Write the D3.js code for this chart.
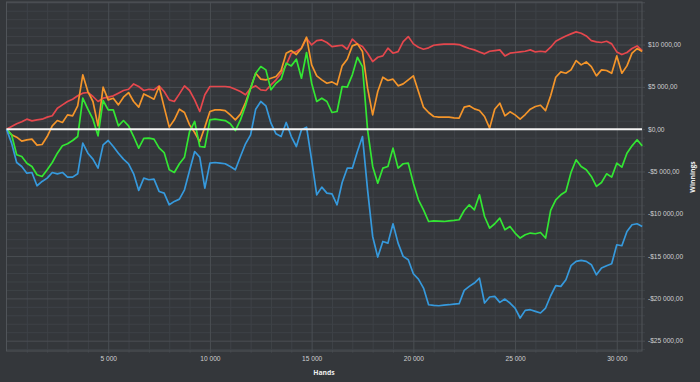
<!DOCTYPE html>
<html>
<head>
<meta charset="utf-8">
<script src="https://cdn.jsdelivr.net/npm/d3@7"></script>
<style>
  html, body { margin: 0; padding: 0; background: #34373b; }
  svg { display: block; }
</style>
</head>
<body>
<svg></svg>
<script>
// --------------- data (winnings every 250 hands)
const handStep = 250;
const xTicks = [5000, 10000, 15000, 20000, 25000, 30000];
const yTicks = [10000, 5000, 0, -5000, -10000, -15000, -20000, -25000];

const red = [0, 320, 630, 870, 1180, 980, 1100, 1180, 1420, 1580,
  2480, 2870, 3270, 3540, 3940, 4250, 4330, 3860, 3270, 3660,
  3780, 3940, 4250, 4570, 4720, 5350, 5040, 4570, 4720, 4650,
  5120, 4450, 3460, 3270, 4170, 5120, 4570, 3460, 2090, 4060,
  5040, 5040, 5040, 5040, 4960, 4720, 4450, 4060, 4840, 5120,
  4650, 4570, 5240, 5830, 6610, 7600, 8980, 9170, 9570, 10750,
  9960, 10470, 10550, 10240, 9760, 9840, 9920, 9450, 10630, 10080,
  9760, 8980, 7990, 8500, 8660, 9570, 8980, 9170, 10350, 10940,
  10080, 9690, 9450, 9610, 9920, 10000, 10040, 10040, 10040, 10000,
  9760, 9530, 9370, 9130, 8900, 9210, 9290, 9370, 8660, 8980,
  9060, 9130, 9210, 9370, 9130, 9210, 9130, 9690, 10390, 10710,
  11020, 11260, 11500, 11340, 11020, 10470, 10310, 10240, 10390, 10080,
  9130, 8820, 9060, 9530, 9840, 9290];

const orange = [0, -670, -950, -1420, -1260, -1180, -1890, -1810, -870, 390,
  1020, 790, 1690, 1580, 2760, 6420, 4450, 3270, 390, 4960,
  3460, 3660, 2870, 3780, 4330, 3270, 2600, 4170, 3860, 3540,
  5040, 2600, 240, 1100, 2360, 1970, 510, -390, -1460, 240,
  2090, 2280, 2280, 2200, 1690, 1100, 1770, 3150, 4840, 6610,
  5910, 5830, 6020, 6220, 6930, 8980, 9290, 8820, 9570, 10870,
  7600, 6300, 5830, 5430, 5590, 5240, 7480, 8270, 9840, 10080,
  9170, 4840, 1690, 4450, 6140, 5750, 5910, 5120, 5350, 5830,
  6300, 4450, 2600, 1970, 1500, 1420, 1420, 1420, 1340, 1300,
  2600, 2760, 2400, 2200, 1500, 120, 2360, 3070, 1580, 2050,
  1690, 1180, 1730, 2360, 2680, 2830, 2200, 3940, 6140, 6770,
  6610, 7010, 8110, 7600, 7950, 7400, 6300, 7010, 6930, 6610,
  8660, 6610, 7480, 8980, 9530, 9170];

const green = [0, -670, -3030, -3230, -4020, -4410, -5390, -5590, -4800, -3940,
  -2840, -1970, -1730, -1340, -870, 3660, 2360, 1180, -790, 3390,
  2280, 2280, 390, 1020, 390, -870, -2240, -1100, -1060, -1180,
  -2210, -2760, -4800, -5120, -4090, -3310, -280, 910, -2050, -2130,
  1100, 1180, 1100, 1020, 630, -160, 1100, 2760, 4840, 6610,
  7400, 7010, 4650, 5430, 5910, 7800, 7480, 8270, 6020, 9060,
  5430, 3270, 3660, 3270, 1970, 2090, 5040, 4960, 6420, 8500,
  7400, -80, -4410, -6380, -4610, -4410, -2240, -4610, -4090, -4020,
  -6380, -8350, -9530, -10910, -10830, -10870, -10910, -10830, -10790, -10710,
  -9610, -8940, -9530, -7760, -10320, -11690, -11180, -10510, -11890, -11500,
  -12280, -12870, -12480, -12280, -12360, -12210, -12870, -9610, -8350, -7760,
  -7360, -5120, -3620, -4410, -4800, -5590, -6770, -6300, -5280, -5670,
  -4020, -4490, -2840, -1970, -1260, -1970];

const blue = [0, -1650, -3940, -4410, -5200, -5120, -6690, -6180, -5790, -5120,
  -5280, -5120, -5670, -5670, -5280, -1650, -2840, -3540, -4610, -1850,
  -1340, -2050, -2840, -3540, -4090, -5280, -7240, -5790, -5980, -5910,
  -7360, -7560, -8940, -8540, -8270, -7170, -4880, -2640, -3310, -6970,
  -4020, -3940, -4020, -4090, -4410, -4800, -3230, -1730, -670, 2360,
  3270, 2760, 710, -550, -870, 790, -870, -2050, -80, 240,
  -3620, -7760, -6850, -7560, -7640, -8940, -6300, -4610, -4610, -2640,
  -870, -7170, -12680, -15120, -13270, -13470, -11180, -13470, -15040, -15430,
  -17090, -17720, -18780, -20750, -20830, -20870, -20790, -20750, -20670, -20630,
  -19060, -18580, -18190, -17600, -20550, -19840, -19760, -20470, -20080, -20550,
  -21140, -22320, -21420, -21340, -21540, -21730, -21140, -19690, -18500, -18580,
  -17800, -16140, -15630, -15510, -15630, -16020, -17210, -16420, -16140, -15910,
  -13660, -13780, -12090, -11300, -11180, -11500];

const seriesList = [
  { values: red, color: '#e5474d' },
  { values: orange, color: '#f4952a' },
  { values: green, color: '#33e633' },
  { values: blue, color: '#3699dc' }
];

// --------------- setup
const width = 700;
const height = 382;
const plotLeft = 6.5;
const plotRight = 642;
const plotTop = 2;
const plotBottom = 351;

const svg = d3.select('svg')
  .attr('width', width)
  .attr('height', height)
  .style('font-family', '"Open Sans", sans-serif');

svg.append('rect')
  .attr('width', width)
  .attr('height', height)
  .attr('fill', '#34373b');

// scales
const xScale = d3.scaleLinear()
  .domain([0, 31240])
  .range([plotLeft, plotRight]);

const yScale = d3.scaleLinear()
  .domain([-26220, 15030])
  .range([plotBottom, plotTop]);

// grid
const minorX = d3.range(1000, 31240, 1000).filter(d => d % 5000 !== 0);
const minorY = d3.range(-26000, 15030, 1000).filter(d => d % 5000 !== 0);
const majorY = [15000].concat(yTicks);

function styleGrid(g, color) {
  g.select('.domain').remove();
  g.selectAll('.tick line').attr('stroke', color).attr('stroke-width', 1);
}

svg.append('g')
  .attr('transform', 'translate(0,' + (plotBottom + 2) + ')')
  .call(d3.axisBottom(xScale).tickValues(minorX).tickSize(-(plotBottom - plotTop + 2)).tickFormat(''))
  .call(g => styleGrid(g, '#3e4247'));

svg.append('g')
  .attr('transform', 'translate(' + (plotRight + 3) + ',0)')
  .call(d3.axisRight(yScale).tickValues(minorY).tickSize(-(plotRight - plotLeft + 3)).tickFormat(''))
  .call(g => styleGrid(g, '#3e4247'));

svg.append('g')
  .attr('transform', 'translate(0,' + (plotBottom + 2) + ')')
  .call(d3.axisBottom(xScale).tickValues(xTicks).tickSize(-(plotBottom - plotTop + 2)).tickFormat(''))
  .call(g => styleGrid(g, '#4a4e53'));

svg.append('g')
  .attr('transform', 'translate(' + (plotRight + 3) + ',0)')
  .call(d3.axisRight(yScale).tickValues(majorY).tickSize(-(plotRight - plotLeft + 3)).tickFormat(''))
  .call(g => styleGrid(g, '#4a4e53'));

// plot frame
svg.append('rect')
  .attr('x', plotLeft)
  .attr('y', plotTop)
  .attr('width', plotRight - plotLeft)
  .attr('height', plotBottom - plotTop)
  .attr('fill', 'none')
  .attr('stroke', '#505459')
  .attr('stroke-width', 1);

// lines
const line = d3.line()
  .x((d, i) => xScale(i * handStep))
  .y(d => yScale(d));

svg.append('g')
  .selectAll('path')
  .data(seriesList)
  .enter()
  .append('path')
  .attr('d', s => line(s.values))
  .attr('fill', 'none')
  .attr('stroke', s => s.color)
  .attr('stroke-width', 1.7)
  .attr('stroke-linejoin', 'round');

// zero line
svg.append('line')
  .attr('x1', plotLeft)
  .attr('x2', plotRight)
  .attr('y1', yScale(0))
  .attr('y2', yScale(0))
  .attr('stroke', '#f4f4f4')
  .attr('stroke-width', 2);

// axes labels
const spaced = d3.formatLocale({ decimal: ',', thousands: ' ', grouping: [3], currency: ['$', ''] });
const handsFormat = spaced.format(',d');
const moneyFormat = d => (d < 0 ? '-' : '') + '$' + spaced.format(',.2f')(Math.abs(d));

svg.append('g')
  .attr('transform', 'translate(0,' + plotBottom + ')')
  .call(d3.axisBottom(xScale).tickValues(xTicks).tickSize(0).tickPadding(5).tickFormat(handsFormat))
  .call(g => g.select('.domain').remove())
  .call(g => g.selectAll('text').attr('fill', '#cfd0d1').style('font-size', '6.6px'));

svg.append('g')
  .attr('transform', 'translate(' + plotRight + ',0)')
  .call(d3.axisRight(yScale).tickValues(yTicks).tickSize(0).tickPadding(6).tickFormat(moneyFormat))
  .call(g => g.select('.domain').remove())
  .call(g => g.selectAll('text').attr('fill', '#cfd0d1').style('font-size', '6.6px'));

svg.append('text')
  .attr('x', 324)
  .attr('y', 375)
  .attr('text-anchor', 'middle')
  .attr('fill', '#eeeeee')
  .style('font-size', '6.8px')
  .style('font-weight', 'bold')
  .text('Hands');

svg.append('text')
  .attr('transform', 'translate(695,177) rotate(-90)')
  .attr('text-anchor', 'middle')
  .attr('fill', '#eeeeee')
  .style('font-size', '6.8px')
  .style('font-weight', 'bold')
  .text('Winnings');
</script>
</body>
</html>
